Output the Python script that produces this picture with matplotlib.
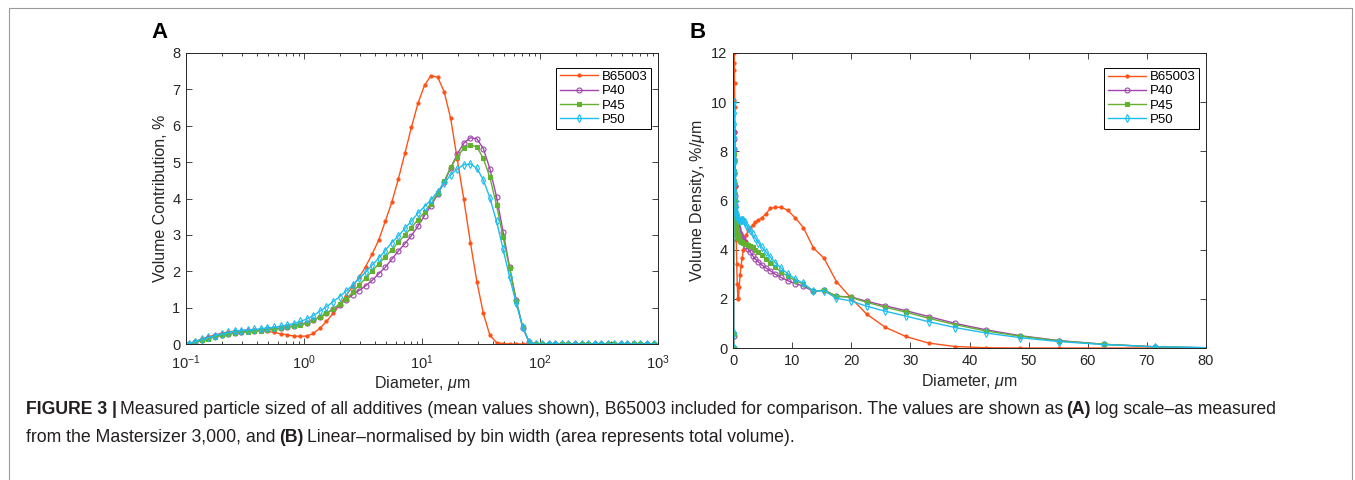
import matplotlib
matplotlib.use("Agg")
import matplotlib.pyplot as plt
from matplotlib.ticker import LogLocator, NullFormatter, FixedLocator
from matplotlib.patches import Rectangle

plt.rcParams['font.family'] = ['Liberation Sans', 'DejaVu Sans']
plt.rcParams['mathtext.fontset'] = 'custom'
plt.rcParams['mathtext.rm'] = 'Liberation Sans'
plt.rcParams['mathtext.it'] = 'Liberation Sans:italic'

# ---- Data (bin mid sizes, um) ----
size_um = [0.0937, 0.106, 0.120, 0.137, 0.155, 0.177, 0.201, 0.228, 0.259, 0.294,
           0.335, 0.380, 0.432, 0.490, 0.557, 0.633, 0.719, 0.818, 0.930, 1.06,
           1.20, 1.36, 1.55, 1.76, 2.00, 2.27, 2.58, 2.93, 3.33, 3.78,
           4.30, 4.88, 5.55, 6.31, 7.17, 8.14, 9.25, 10.5, 11.9, 13.6,
           15.4, 17.5, 19.9, 22.6, 25.7, 29.2, 33.1, 37.6, 42.8, 48.6,
           55.2, 62.8, 71.3, 81.0, 92.1, 104, 119, 135, 153, 174,
           198, 225, 256, 290, 330, 375, 426, 484, 550, 625,
           710, 806, 916, 1040]

series_names = ['B65003', 'P40', 'P45', 'P50']

# Panel A: volume contribution, %
vol_b65003 = [0, 0.0, 0.07, 0.14, 0.20, 0.25, 0.30, 0.33, 0.36, 0.37,
              0.38, 0.38, 0.37, 0.35, 0.32, 0.28, 0.25, 0.22, 0.21, 0.22,
              0.29, 0.43, 0.62, 0.84, 1.07, 1.33, 1.58, 1.83, 2.13, 2.47,
              2.86, 3.37, 3.90, 4.54, 5.25, 5.96, 6.62, 7.11, 7.38, 7.33,
              6.94, 6.20, 5.08, 3.98, 2.79, 1.71, 0.84, 0.24, 0.04, 0.01,
              0, 0, 0, 0, 0, 0, 0, 0, 0, 0,
              0, 0, 0, 0, 0, 0, 0, 0, 0, 0,
              0, 0, 0, 0]
vol_p40 = [0, 0.0, 0.05, 0.11, 0.16, 0.21, 0.25, 0.28, 0.31, 0.33,
           0.35, 0.37, 0.38, 0.40, 0.42, 0.44, 0.47, 0.50, 0.54, 0.59,
           0.66, 0.74, 0.84, 0.96, 1.08, 1.22, 1.35, 1.47, 1.60, 1.75,
           1.93, 2.11, 2.33, 2.56, 2.76, 2.98, 3.24, 3.53, 3.80, 4.12,
           4.44, 4.84, 5.22, 5.52, 5.67, 5.64, 5.37, 4.82, 4.05, 3.09,
           2.12, 1.21, 0.45, 0.05, 0, 0, 0, 0, 0, 0,
           0, 0, 0, 0, 0, 0, 0, 0, 0, 0,
           0, 0, 0, 0]
vol_p45 = [0, 0.0, 0.05, 0.10, 0.15, 0.20, 0.24, 0.27, 0.30, 0.32,
           0.34, 0.36, 0.37, 0.39, 0.41, 0.43, 0.46, 0.49, 0.53, 0.58,
           0.65, 0.74, 0.84, 0.96, 1.09, 1.24, 1.42, 1.62, 1.81, 2.01,
           2.20, 2.40, 2.59, 2.80, 3.00, 3.20, 3.42, 3.62, 3.85, 4.15,
           4.47, 4.86, 5.15, 5.38, 5.47, 5.42, 5.10, 4.58, 3.82, 2.95,
           2.08, 1.19, 0.47, 0.05, 0, 0, 0, 0, 0, 0,
           0, 0, 0, 0, 0, 0, 0, 0, 0, 0,
           0, 0, 0, 0]
vol_p50 = [0, 0.01, 0.065, 0.13, 0.18, 0.23, 0.28, 0.32, 0.35, 0.37,
           0.39, 0.40, 0.42, 0.44, 0.46, 0.49, 0.52, 0.56, 0.62, 0.69,
           0.78, 0.90, 1.02, 1.16, 1.30, 1.45, 1.62, 1.81, 1.97, 2.17,
           2.36, 2.57, 2.79, 2.97, 3.18, 3.38, 3.60, 3.78, 3.96, 4.19,
           4.42, 4.65, 4.81, 4.93, 4.95, 4.83, 4.51, 4.02, 3.37, 2.62,
           1.84, 1.12, 0.47, 0.05, 0, 0, 0, 0, 0, 0,
           0, 0, 0, 0, 0, 0, 0, 0, 0, 0,
           0, 0, 0, 0]

# Panel B: volume density, %/um
dens_b65003 = [0, 0, 4.6, 8.0, 10.1, 11.3, 12.0, 11.6, 10.8, 9.8,
               8.8, 7.7, 6.6, 5.5, 4.4, 3.4, 2.6, 2.05, 2.0, 2.5,
               2.98, 3.35, 3.66, 4.0, 4.34, 4.6, 4.78, 4.9, 5.0, 5.12,
               5.2, 5.3, 5.45, 5.68, 5.72, 5.73, 5.6, 5.3, 4.9, 4.07,
               3.65, 2.7, 2.05, 1.38, 0.85, 0.47, 0.2, 0.06, 0.01, 0,
               0, 0, 0, 0, 0, 0, 0, 0, 0, 0,
               0, 0, 0, 0, 0, 0, 0, 0, 0, 0,
               0, 0, 0, 0]
dens_p40 = [0, 0.5, 4.75, 8.8, 8.5, 8.1, 7.6, 7.1, 6.6, 6.2,
            5.8, 5.5, 5.3, 5.15, 5.05, 4.98, 4.92, 4.87, 4.8, 4.72,
            4.63, 4.55, 4.48, 4.4, 4.3, 4.16, 4.03, 3.9, 3.76, 3.62,
            3.5, 3.38, 3.26, 3.14, 3.0, 2.87, 2.74, 2.62, 2.52, 2.3,
            2.35, 2.1, 2.08, 1.9, 1.72, 1.52, 1.28, 1.0, 0.74, 0.5,
            0.3, 0.15, 0.05, 0.005, 0, 0, 0, 0, 0, 0,
            0, 0, 0, 0, 0, 0, 0, 0, 0, 0,
            0, 0, 0, 0]
dens_p45 = [0, 0.55, 4.6, 7.9, 7.6, 7.2, 6.8, 6.4, 6.0, 5.7,
            5.45, 5.25, 5.1, 4.98, 4.88, 4.8, 4.7, 4.58, 4.48, 4.42,
            4.37, 4.33, 4.3, 4.28, 4.25, 4.22, 4.19, 4.15, 4.1, 4.0,
            3.9, 3.78, 3.63, 3.47, 3.28, 3.1, 2.92, 2.74, 2.6, 2.3,
            2.36, 2.11, 2.06, 1.86, 1.66, 1.46, 1.21, 0.95, 0.69, 0.48,
            0.29, 0.15, 0.05, 0.005, 0, 0, 0, 0, 0, 0,
            0, 0, 0, 0, 0, 0, 0, 0, 0, 0,
            0, 0, 0, 0]
dens_p50 = [0, 0.6, 5.55, 10.0, 9.56, 9.1, 8.6, 8.1, 7.6, 7.1,
            6.7, 6.3, 6.0, 5.75, 5.55, 5.45, 5.38, 5.3, 5.24, 5.2,
            5.17, 5.2, 5.22, 5.2, 5.12, 5.0, 4.9, 4.78, 4.62, 4.47,
            4.29, 4.1, 3.92, 3.7, 3.47, 3.25, 3.02, 2.81, 2.63, 2.32,
            2.33, 2.02, 1.92, 1.7, 1.5, 1.3, 1.07, 0.83, 0.61, 0.42,
            0.26, 0.14, 0.05, 0.01, 0, 0, 0, 0, 0, 0,
            0, 0, 0, 0, 0, 0, 0, 0, 0, 0,
            0, 0, 0, 0]

log_ticks = [0.1, 1, 10, 100, 1000]
log_labels = ['$10^{-1}$', '$10^{0}$', '$10^{1}$', '$10^{2}$', '$10^{3}$']

# ---- Style ----
colors = ['#FF5218', '#A145AC', '#63B22F', '#1DBDEE']
markers = ['.', 'o', 's', 'd']
msizes = [4.5, 3.6, 3.0, 3.8]
mfaces = [None, 'none', None, 'none']
dark = '#262626'
tick_fs = 10.5
label_fs = 11.5

W, H = 1355, 480
fig = plt.figure(figsize=(W / 100, H / 100), dpi=100)

# page border
fig.add_artist(Rectangle((9 / W, -0.05), (1352 - 9) / W, 1.05 - 8 / H,
                         transform=fig.transFigure, fill=False,
                         edgecolor='#9a9a9a', linewidth=0.8))

axA = fig.add_axes([186 / W, 1 - 344 / H, 472 / W, 291 / H])
axB = fig.add_axes([733 / W, 1 - 348 / H, 473 / W, 295 / H])


def draw_series(ax, ys_list):
    for y, name, c, m, ms, mf in zip(ys_list, series_names, colors, markers, msizes, mfaces):
        kw = dict(color=c, marker=m, markersize=ms, linewidth=1.0,
                  markeredgewidth=0.8, label=name)
        if mf is not None:
            kw['markerfacecolor'] = mf
        ax.plot(size_um, y, **kw)


draw_series(axA, [vol_b65003, vol_p40, vol_p45, vol_p50])
draw_series(axB, [dens_b65003, dens_p40, dens_p45, dens_p50])

# Panel A axes
axA.set_xscale('log')
axA.set_xlim(0.1, 1000)
axA.set_ylim(0, 8)
axA.xaxis.set_major_locator(FixedLocator(log_ticks))
axA.set_xticklabels(log_labels)
axA.xaxis.set_minor_locator(LogLocator(base=10, subs=range(2, 10), numticks=20))
axA.xaxis.set_minor_formatter(NullFormatter())
axA.set_yticks(range(0, 9))

# Panel B axes
axB.set_xlim(0, 80)
axB.set_ylim(0, 12)
axB.set_xticks(range(0, 81, 10))
axB.set_yticks(range(0, 13, 2))

for ax in (axA, axB):
    for s in ax.spines.values():
        s.set_linewidth(0.7)
        s.set_color(dark)
    ax.tick_params(which='both', direction='in', top=True, right=True,
                   colors=dark, labelsize=tick_fs, width=0.6)
    ax.tick_params(which='major', length=4, pad=4)
    ax.tick_params(which='minor', length=2.2)
    leg = ax.legend(loc='upper right', bbox_to_anchor=(0.985, 0.95), fontsize=9.5,
                    frameon=True, fancybox=False, framealpha=1, borderpad=0.25,
                    labelspacing=0.15, handlelength=2.9, handletextpad=0.3,
                    borderaxespad=0)
    leg.get_frame().set_edgecolor('#000000')
    leg.get_frame().set_linewidth(0.7)

axA.tick_params(axis='x', which='major', pad=7)
axA.set_xlabel('Diameter, $\\mu$m', fontsize=label_fs, color=dark, labelpad=1)
axA.set_ylabel('Volume Contribution, %', fontsize=label_fs, color=dark, labelpad=3)
axB.set_xlabel('Diameter, $\\mu$m', fontsize=label_fs, color=dark, labelpad=3)
axB.set_ylabel('Volume Density, %/$\\mu$m', fontsize=label_fs, color=dark, labelpad=3)

fig.text(160 / W, 1 - 33 / H, 'A', fontsize=16, fontweight='bold', va='center', ha='center')
fig.text(698 / W, 1 - 33 / H, 'B', fontsize=16, fontweight='bold', va='center', ha='center')

# ---- Caption with mixed bold/normal runs ----
cap_color = '#231F20'
cap_size = 12.7
lines = [
    [('FIGURE 3 |', 'bold'),
     ('Measured particle sized of all additives (mean values shown), B65003 included for comparison. The values are shown as', 'normal'),
     ('(A)', 'bold'),
     ('log scale\u2013as measured', 'normal')],
    [('from the Mastersizer 3,000, and', 'normal'),
     ('(B)', 'bold'),
     ('Linear\u2013normalised by bin width (area represents total volume).', 'normal')],
]
fig.canvas.draw()
renderer = fig.canvas.get_renderer()
gap = 3.8 / W
for i, runs in enumerate(lines):
    x = 26 / W
    y = 1 - (414 + i * 28) / H
    for j, (txt, wt) in enumerate(runs):
        t = fig.text(x, y, txt, fontsize=cap_size, fontweight=wt, color=cap_color,
                     va='baseline', ha='left')
        bb = t.get_window_extent(renderer)
        x += bb.width / W + (2.5 / W if j == 0 and i == 0 else gap)

fig.savefig('out.png', dpi=100)
